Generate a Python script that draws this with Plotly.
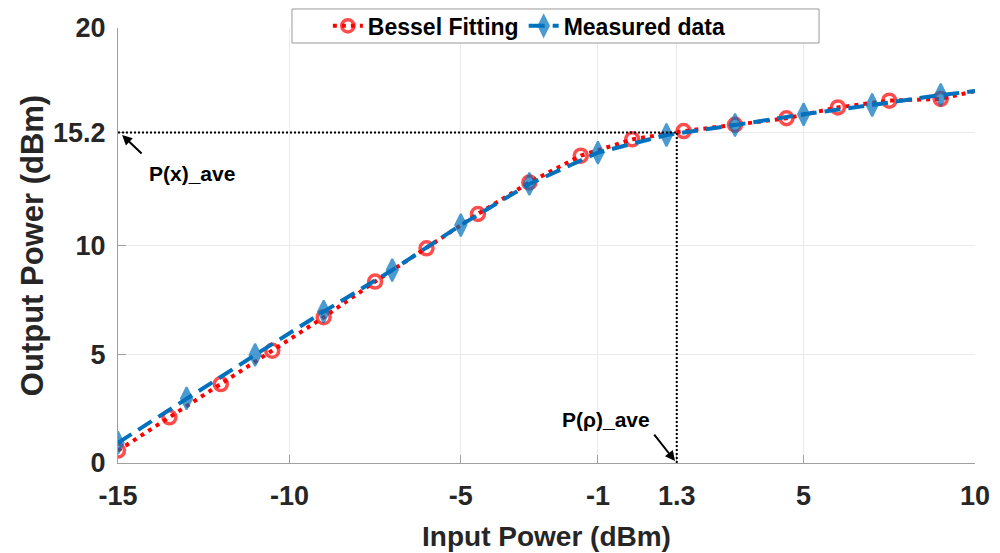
import plotly.graph_objects as go

# Bessel fitting (red dotted, circles)
fit_x = [-15, -13.5, -12, -10.5, -9, -7.5, -6, -4.5, -3, -1.5, 0, 1.5, 3, 4.5, 6, 7.5, 9, 10]
fit_y = [0.57, 2.1, 3.63, 5.16, 6.7, 8.34, 9.87, 11.45, 12.9, 14.13, 14.88, 15.26, 15.55, 15.85, 16.35, 16.66, 16.74, 17.1]

# Measured data (blue dashed, diamonds)
meas_x = [-15, -13, -11, -9, -7, -5, -3, -1, 1, 3, 5, 7, 9, 10]
meas_y = [0.93, 2.97, 4.97, 6.96, 8.87, 10.94, 12.83, 14.27, 15.08, 15.54, 16.03, 16.46, 16.92, 17.1]

x_ticks = [-15, -10, -5, -1, 1.3, 5, 10]
x_tick_labels = ["-15", "-10", "-5", "-1", "1.3", "5", "10"]
y_ticks = [0, 5, 10, 15.2, 20]
y_tick_labels = ["0", "5", "10", "15.2", "20"]

p_in_ave = 1.3
p_out_ave = 15.2

FONT = "Liberation Sans, Arial, sans-serif"
RED = "#FF0000"
BLUE = "#0072BD"

fig = go.Figure()
fig.add_trace(go.Scatter(
    x=fit_x, y=fit_y, mode="lines+markers", name="Bessel Fitting",
    line=dict(color=RED, width=4, dash="4px,5px"),
    marker=dict(symbol="circle-open", size=[13] * (len(fit_x) - 1) + [0],
                color=RED, line=dict(width=3.5, color=RED)),
))
fig.add_trace(go.Scatter(
    x=meas_x, y=meas_y, mode="lines+markers", name="Measured data",
    line=dict(color=BLUE, width=4, dash="16px,8px"),
    marker=dict(symbol="diamond-tall", size=[16] * (len(meas_x) - 1) + [0],
                color=BLUE, line=dict(width=2, color=BLUE)),
))

# reference dotted lines
fig.add_shape(type="line", x0=-15, x1=p_in_ave, y0=p_out_ave, y1=p_out_ave,
              line=dict(color="black", width=2, dash="2px,2px"), layer="above")
fig.add_shape(type="line", x0=p_in_ave, x1=p_in_ave, y0=0, y1=p_out_ave,
              line=dict(color="black", width=2, dash="2px,2px"), layer="above")

# legend box
fig.add_shape(type="rect", xref="paper", yref="paper",
              x0=0.203, x1=0.818, y0=0.9655, y1=1.0437,
              line=dict(color="#999999", width=1), fillcolor="white", layer="above")

# annotations
fig.add_annotation(x=-14.88, y=15.08, ax=21, ay=20, text="", showarrow=True,
                   arrowhead=2, arrowsize=1, arrowwidth=2, arrowcolor="black")
fig.add_annotation(x=-12.84, y=13.33, text="P(x)_ave", showarrow=False,
                   font=dict(family=FONT, size=21, color="black", weight="bold"))
fig.add_annotation(x=1.25, y=0.09, ax=-22, ay=-28, text="", showarrow=True,
                   arrowhead=2, arrowsize=1, arrowwidth=2, arrowcolor="black")
fig.add_annotation(x=-0.765, y=1.98, text="P(ρ)_ave", showarrow=False,
                   font=dict(family=FONT, size=21, color="black", weight="bold"))

# page body has an 8px margin: figure is shrunk by 8px so the plot sits where the reference has it
fig.update_layout(
    width=992, height=545,
    margin=dict(l=110, r=25, t=20, b=90, autoexpand=False),
    paper_bgcolor="white", plot_bgcolor="white",
    font=dict(family=FONT, color="#262626"),
    showlegend=True,
    legend=dict(orientation="h", x=0.48, xanchor="center", y=1.005, yanchor="middle",
                bgcolor="rgba(0,0,0,0)", borderwidth=0,
                font=dict(family=FONT, size=23, color="black", weight="bold"),
                itemwidth=30),
    xaxis=dict(
        range=[-15, 10], tickmode="array", tickvals=x_ticks, ticktext=x_tick_labels,
        showgrid=True, gridcolor="#EBEBEB", gridwidth=1,
        showline=True, linecolor="#A0A0A0", linewidth=1,
        ticks="inside", ticklen=8, tickcolor="#A0A0A0",
        ticklabelstandoff=9, zeroline=False, automargin=False,
        tickfont=dict(family=FONT, size=27, color="#262626", weight="bold"),
        title=dict(text="Input Power (dBm)", standoff=15,
                   font=dict(family=FONT, size=28, color="#262626", weight="bold")),
    ),
    yaxis=dict(
        range=[0, 20], tickmode="array", tickvals=y_ticks, ticktext=y_tick_labels,
        showgrid=True, gridcolor="#EBEBEB", gridwidth=1,
        showline=True, linecolor="#A0A0A0", linewidth=1,
        ticks="inside", ticklen=8, tickcolor="#A0A0A0",
        ticklabelstandoff=6, zeroline=False, automargin=False,
        tickfont=dict(family=FONT, size=27, color="#262626", weight="bold"),
        title=dict(text="Output Power (dBm)", standoff=0,
                   font=dict(family=FONT, size=31, color="#262626", weight="bold")),
    ),
)

fig.write_html("out.html")
